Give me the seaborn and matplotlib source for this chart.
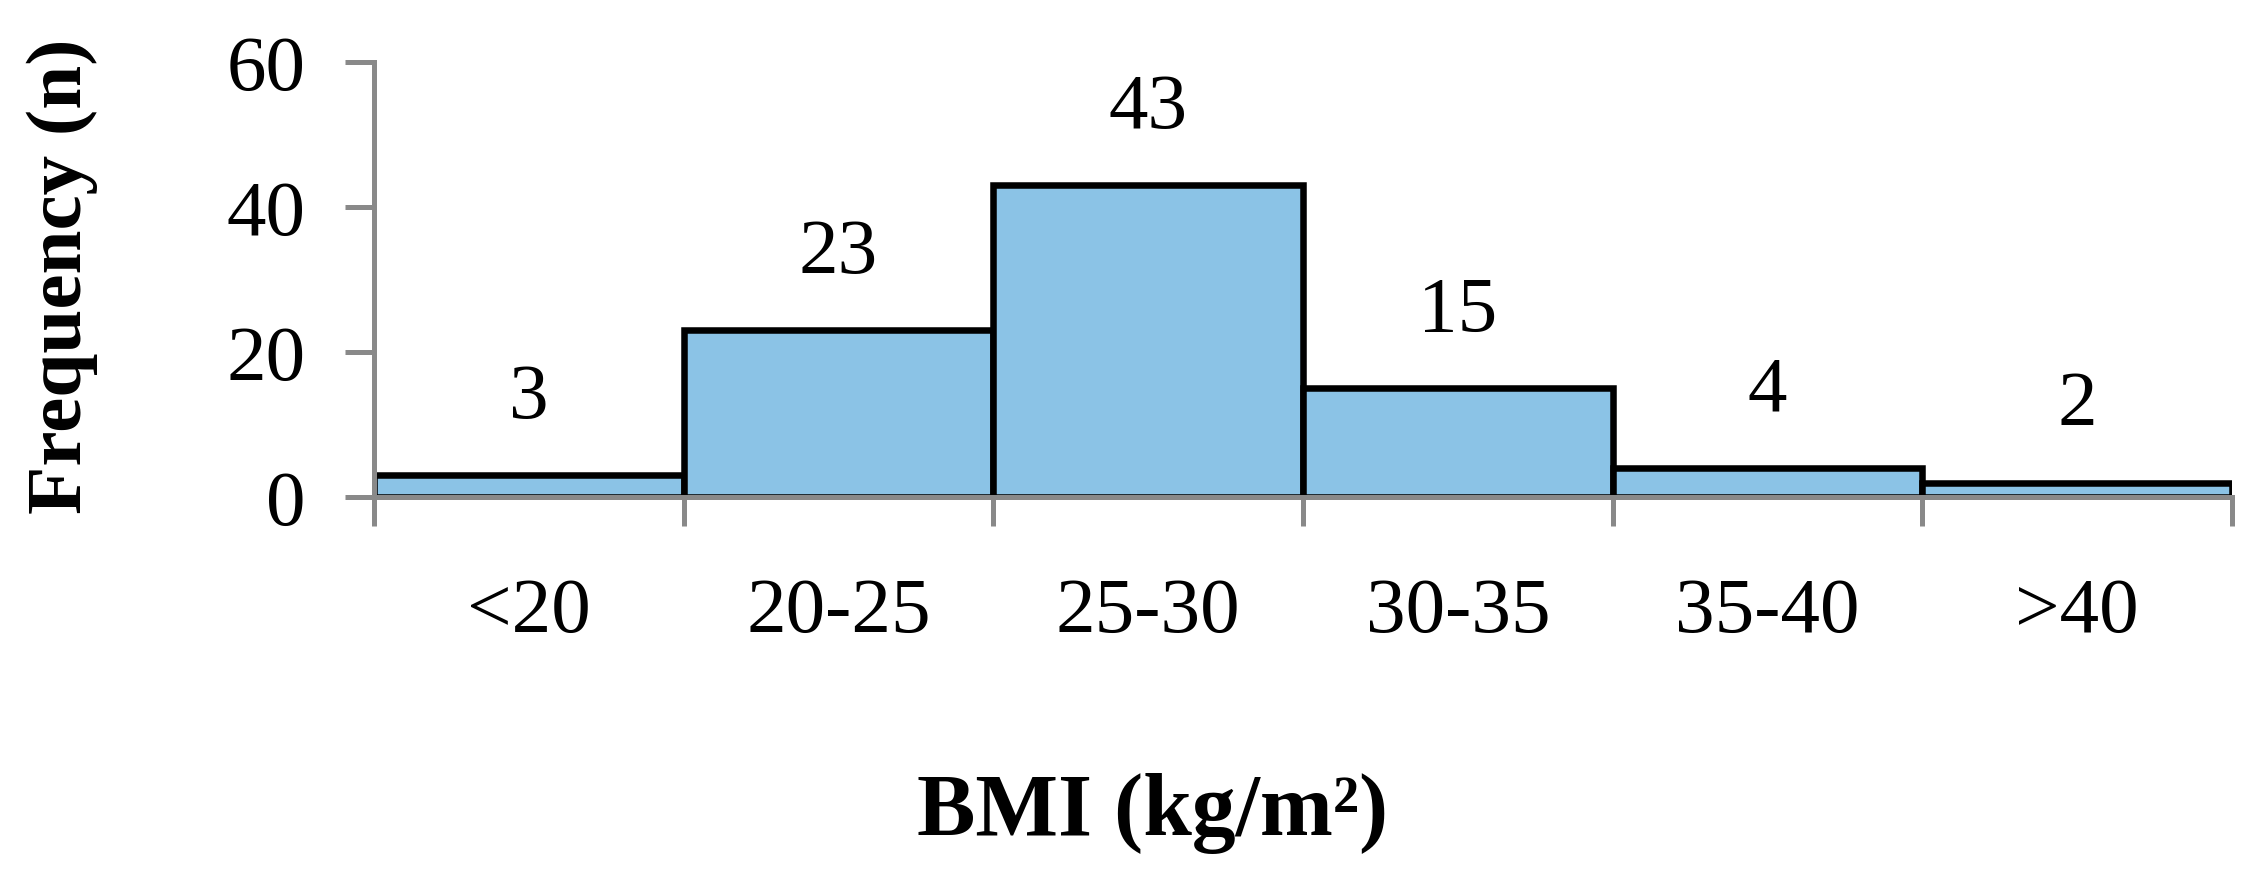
import matplotlib
matplotlib.use('Agg')
import matplotlib.pyplot as plt
import seaborn as sns
import pandas as pd
import numpy as np

bmi_groups = ['<20', '20-25', '25-30', '30-35', '35-40', '>40']
frequency = [3, 23, 43, 15, 4, 2]
y_ticks = [0, 20, 40, 60]

bar_color = '#8BC3E6'
axis_gray = '#898989'
font_size = 57

sns.set_style('white')
plt.rcParams['font.family'] = ['Liberation Serif', 'DejaVu Serif']
plt.rcParams['text.color'] = 'black'
plt.rcParams['axes.labelcolor'] = 'black'

fig = plt.figure(figsize=(22.58, 8.79), dpi=100)
ax = fig.add_axes([0.1656, 0.4334, 0.8229, 0.4949])

df = pd.DataFrame({'bmi': bmi_groups, 'freq': frequency})
sns.barplot(data=df, x='bmi', y='freq', width=1, color=bar_color, saturation=1,
            edgecolor='black', linewidth=4.7, ax=ax)

ax.bar_label(ax.containers[0], padding=30, fontsize=font_size, color='black')

ax.set_xlim(-0.5, len(bmi_groups) - 0.5)
ax.set_ylim(0, 60)
ax.set_yticks(y_ticks)

# ticks at bin edges, labels centred under the bars
ax.set_xticks(np.arange(-0.5, len(bmi_groups), 1))
ax.set_xticklabels([])
ax.set_xticks(range(len(bmi_groups)), minor=True)
ax.set_xticklabels(bmi_groups, minor=True)

ax.tick_params(axis='x', which='major', length=21, width=3.6, color=axis_gray, direction='out', bottom=True)
ax.tick_params(axis='x', which='minor', length=0, pad=57, labelsize=font_size, labelcolor='black')
ax.tick_params(axis='y', length=21, width=3.6, color=axis_gray, direction='out', left=True,
               pad=28, labelsize=font_size, labelcolor='black')

for side in ['top', 'right']:
    ax.spines[side].set_visible(False)
for side in ['left', 'bottom']:
    ax.spines[side].set_color(axis_gray)
    ax.spines[side].set_linewidth(3.6)
    ax.spines[side].set_zorder(5)

ax.set_xlabel('BMI (kg/m²)', fontsize=63, fontweight='bold', va='center')
ax.xaxis.set_label_coords(0.5106, 0.074, transform=fig.transFigure)
ax.set_ylabel('Frequency (n)', fontsize=font_size, fontweight='bold', va='center')
ax.yaxis.set_label_coords(0.0275, 0.686, transform=fig.transFigure)

plt.savefig('out.png', dpi=100)
plt.close()
